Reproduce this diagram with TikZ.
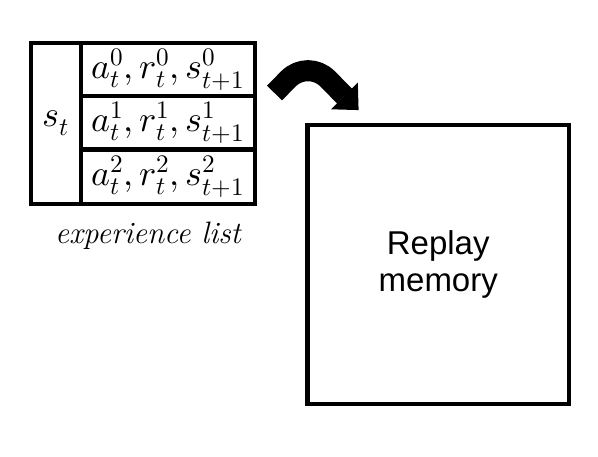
\documentclass[tikz,border=0pt]{standalone}
\usepackage{fontspec}
\usepackage{unicode-math}
\setmathfont{Latin Modern Math}
\newfontfamily\arialfont{Liberation Sans}
\begin{document}
\begin{tikzpicture}[x=1pt,y=-1pt,
  cellbox/.style={draw=black, line width=4.5pt, inner sep=0pt, anchor=center},
  mathtxt/.style={font=\fontsize{36}{40}\selectfont},
  membox/.style={draw=black, line width=4.5pt, inner sep=0pt, anchor=center,
    minimum width=261.5pt, minimum height=279pt,
    font=\arialfont\fontsize{33}{37}\selectfont, align=center},
  bigarrow/.style={line width=21pt, line cap=butt, rounded corners=28pt}]
\useasboundingbox (0,0) rectangle (598,457);
% experience list table
\node[cellbox, minimum width=50pt, minimum height=161pt, mathtxt] (st) at (56,123.5) {$s_t$};
\node[cellbox, minimum width=174pt, minimum height=53pt, mathtxt] (row0) at (168,69.5) {$a_t^0,r_t^0,s_{t+1}^0$};
\node[cellbox, minimum width=174pt, minimum height=53.5pt, mathtxt] (row1) at (168,122.75) {$a_t^1,r_t^1,s_{t+1}^1$};
\node[cellbox, minimum width=174pt, minimum height=54.5pt, mathtxt] (row2) at (168,176.75) {$a_t^2,r_t^2,s_{t+1}^2$};
\node[font=\fontsize{31}{35}\selectfont\itshape] (cap) at (148,236) {experience list};
% replay memory
\node[membox] (mem) at (438.25,264.5) {Replay\\memory};
% curved arrow
\coordinate (tail) at (274.5,93);
\coordinate (apex) at (308,59);
\coordinate (hbase) at (344.5,96);
\coordinate (tip) at (358.6,110.1);
\coordinate (hl) at (357.8,82.7);
\coordinate (hr) at (331.2,109.3);
\draw[bigarrow] (tail) -- (apex) -- (hbase);
\fill (hl) -- (tip) -- (hr) -- cycle;
\end{tikzpicture}
\end{document}
